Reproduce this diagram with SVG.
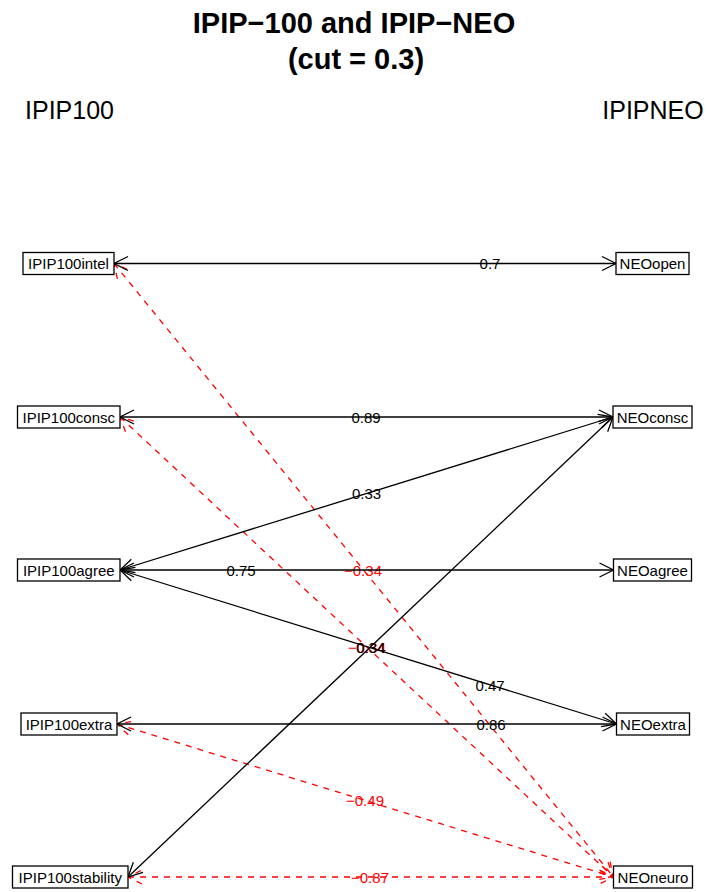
<svg xmlns="http://www.w3.org/2000/svg" width="707" height="892" viewBox="0 0 707 892">
  <style>
    text { font-family: "Liberation Sans", Arial, sans-serif; }
    .title { font-size: 29px; font-weight: bold; text-anchor: middle; }
    .head { font-size: 25px; text-anchor: middle; }
    .box { fill: #fff; stroke: #000; stroke-width: 1.3; }
    .lbl { font-size: 15px; text-anchor: middle; }
    .pos { stroke: #000; stroke-width: 1.3; fill: none; marker-start: url(#hk); marker-end: url(#hk); }
    .neg { stroke: #f00; stroke-width: 1.3; fill: none; stroke-dasharray: 6 6; marker-start: url(#hkr); marker-end: url(#hkr); }
    .elbl { font-size: 15px; text-anchor: middle; fill: #000; }
    .elbl.r { fill: #f00; }
  </style>
  <defs>
    <marker id="hk" viewBox="-16 -9 18 18" refX="0" refY="0" markerWidth="18" markerHeight="18" markerUnits="userSpaceOnUse" orient="auto-start-reverse">
      <path d="M-14,-7 L0,0 L-14,7" fill="none" stroke="#000" stroke-width="1.3"/>
    </marker>
    <marker id="hkr" viewBox="-16 -9 18 18" refX="0" refY="0" markerWidth="18" markerHeight="18" markerUnits="userSpaceOnUse" orient="auto-start-reverse">
      <path d="M-14,-7 L0,0 L-14,7" fill="none" stroke="#f00" stroke-width="1.3" stroke-dasharray="6 6"/>
    </marker>
  </defs>

  <rect width="707" height="892" fill="#fff"/>

  <!-- title and column headings -->
  <text class="title" x="354" y="33">IPIP−100 and IPIP−NEO</text>
  <text class="title" x="356" y="69">(cut = 0.3)</text>
  <text class="head" x="69.5" y="119">IPIP100</text>
  <text class="head" x="653" y="119">IPIPNEO</text>

  <!-- connectors: dashed red = negative, solid black = positive -->
  <g id="connectors">
    <line class="neg" x1="114" y1="263.5" x2="613.5" y2="877"/>
    <text class="elbl r" x="363" y="575.5">−0.34</text>
    <line class="neg" x1="120" y1="417" x2="613.5" y2="877"/>
    <text class="elbl r" x="367" y="652.5">−0.34</text>
    <line class="neg" x1="117" y1="724" x2="613.5" y2="877"/>
    <text class="elbl r" x="365" y="806">−0.49</text>
    <line class="neg" x1="128" y1="877" x2="613.5" y2="877"/>
    <text class="elbl r" x="370" y="882.5">−0.87</text>

    <line class="pos" x1="114" y1="263.5" x2="616" y2="263.5"/>
    <text class="elbl" x="490" y="269">0.7</text>
    <line class="pos" x1="120" y1="417" x2="613" y2="417"/>
    <text class="elbl" x="366" y="422.5">0.89</text>
    <line class="pos" x1="120" y1="570" x2="613" y2="417"/>
    <text class="elbl" x="366.5" y="499">0.33</text>
    <line class="pos" x1="120" y1="570" x2="613.5" y2="570"/>
    <text class="elbl" x="241" y="575.5">0.75</text>
    <line class="pos" x1="120" y1="570" x2="616.5" y2="724"/>
    <text class="elbl" x="490" y="690.5">0.47</text>
    <line class="pos" x1="117" y1="724" x2="616.5" y2="724"/>
    <text class="elbl" x="491" y="729.5">0.86</text>
    <line class="pos" x1="128" y1="877" x2="613" y2="417"/>
    <text class="elbl" x="370.5" y="652.5">0.34</text>
  </g>

  <!-- IPIP-100 scales -->
  <g id="IPIP100intel">
    <rect class="box" x="23" y="252.5" width="91" height="22"/>
    <text class="lbl" x="68.5" y="269">IPIP100intel</text>
  </g>
  <g id="IPIP100consc">
    <rect class="box" x="17.5" y="406" width="102.5" height="22"/>
    <text class="lbl" x="68.75" y="422.5">IPIP100consc</text>
  </g>
  <g id="IPIP100agree">
    <rect class="box" x="17.5" y="559" width="102.5" height="22"/>
    <text class="lbl" x="68.75" y="575.5">IPIP100agree</text>
  </g>
  <g id="IPIP100extra">
    <rect class="box" x="21" y="713" width="96" height="22"/>
    <text class="lbl" x="69" y="729.5">IPIP100extra</text>
  </g>
  <g id="IPIP100stability">
    <rect class="box" x="12.5" y="866" width="115.5" height="22"/>
    <text class="lbl" x="70.25" y="882.5">IPIP100stability</text>
  </g>

  <!-- IPIP-NEO scales -->
  <g id="NEOopen">
    <rect class="box" x="616" y="252.5" width="73" height="22"/>
    <text class="lbl" x="652.5" y="269">NEOopen</text>
  </g>
  <g id="NEOconsc">
    <rect class="box" x="613" y="406" width="79" height="22"/>
    <text class="lbl" x="652.5" y="422.5">NEOconsc</text>
  </g>
  <g id="NEOagree">
    <rect class="box" x="613.5" y="559" width="78" height="22"/>
    <text class="lbl" x="652.5" y="575.5">NEOagree</text>
  </g>
  <g id="NEOextra">
    <rect class="box" x="616.5" y="713" width="73" height="22"/>
    <text class="lbl" x="653" y="729.5">NEOextra</text>
  </g>
  <g id="NEOneuro">
    <rect class="box" x="613.5" y="866" width="79" height="22"/>
    <text class="lbl" x="653" y="882.5">NEOneuro</text>
  </g>
</svg>
